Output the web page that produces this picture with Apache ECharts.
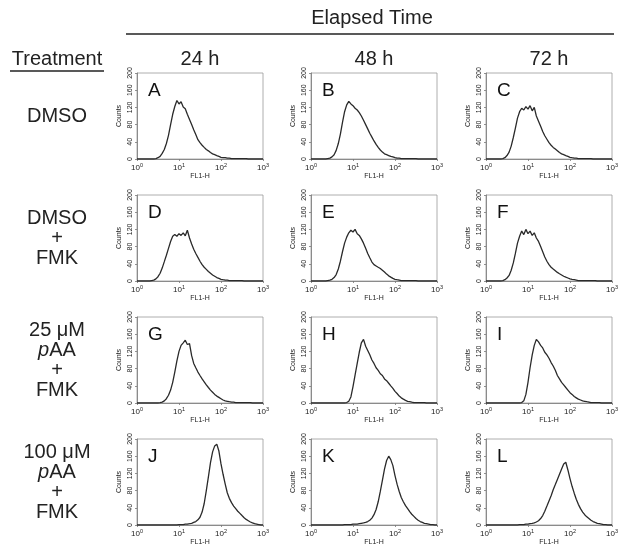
<!DOCTYPE html>
<html>
<head>
<meta charset="utf-8">
<script src="https://cdn.jsdelivr.net/npm/echarts@6/dist/echarts.min.js"></script>
<style>
html,body{margin:0;padding:0;background:#fff;}
#chart{width:629px;height:559px;}
</style>
</head>
<body>
<div id="chart"></div>
<script>
// FL1-H channel values (log-spaced, 0.05 decade steps)
const channels = [
  1.00,1.12,1.26,1.41,1.58,1.78,2.00,2.24,2.51,2.82,3.16,3.55,3.98,4.47,5.01,5.62,6.31,7.08,7.94,8.91,
  10.0,11.2,12.6,14.1,15.8,17.8,20.0,22.4,25.1,28.2,31.6,35.5,39.8,44.7,50.1,56.2,63.1,70.8,79.4,89.1,
  100,112,126,141,158,178,200,224,251,282,316,355,398,447,501,562,631,708,794,891,
  1000
];

const countsA = [0,0,0,0,0,0,0,0,0,1, 3,6,13,22,36,55,80,104,122,136, 128,133,121,117,104,92,80,68,57,45, 38,32,27,22,19,15,12,10,8,6, 4,3,3,2,2,1,1,1,1,1, 1,1,1,0,0,0,0,0,0,0, 0];
const countsB = [0,0,0,0,0,0,0,0,1,2, 5,10,20,36,58,85,110,126,134,128, 124,118,114,108,100,90,80,70,60,51, 42,34,27,21,16,12,10,8,6,5, 3,2,2,1,1,1,1,1,1,1, 1,0,0,0,0,0,0,0,0,0, 0];
const countsC = [0,0,0,0,0,0,0,0,1,3, 8,16,30,50,72,95,110,118,114,122, 116,124,112,120,100,88,76,64,54,46, 38,32,27,23,19,15,12,10,8,6, 4,3,2,2,1,1,1,1,1,1, 1,0,0,0,0,0,0,0,0,0, 0];
const countsD = [0,0,0,0,0,0,0,1,2,5, 10,18,30,45,60,76,92,104,108,104, 110,106,112,105,118,100,86,74,64,55, 46,38,32,27,22,18,14,11,8,6, 4,3,2,2,1,1,1,1,1,1, 1,0,0,0,0,0,0,0,0,0, 0];
const countsE = [0,0,0,0,0,0,0,0,1,2, 4,8,15,28,46,68,88,102,112,118, 114,120,110,106,98,88,76,64,54,44, 38,35,32,29,25,21,16,12,9,6, 4,3,2,1,1,1,1,1,1,1, 1,0,0,0,0,0,0,0,0,0, 0];
const countsF = [0,0,0,0,0,0,0,0,1,3, 7,13,25,42,64,88,104,116,108,120, 110,116,106,112,100,92,80,68,56,46, 38,32,28,24,20,17,14,11,9,7, 5,4,3,2,1,1,1,1,1,1, 1,1,1,0,0,0,0,0,0,0, 0];
const countsG = [0,0,0,0,0,0,0,0,0,0, 0,1,2,5,10,18,30,48,72,98, 120,134,140,146,136,138,110,92,82,72, 64,56,49,42,36,30,25,20,16,13, 10,7,5,4,3,2,2,1,1,1, 1,1,1,1,1,0,0,0,0,0, 0];
const countsH = [0,0,0,0,0,0,0,0,0,0, 0,0,0,0,0,0,0,1,4,14, 38,65,92,118,140,148,132,122,112,100, 92,82,76,68,64,56,52,46,40,34, 27,22,16,12,9,6,4,3,2,1, 1,1,1,1,1,0,0,0,0,0, 0];
const countsI = [0,0,0,0,0,0,0,0,0,0, 0,0,0,0,0,0,0,1,5,20, 48,82,112,134,148,142,134,128,118,112, 104,94,86,76,64,56,48,42,36,30, 24,20,15,12,9,7,5,4,3,2, 1,1,1,1,1,0,0,0,0,0, 0];
const countsJ = [0,0,0,0,0,0,0,0,0,0, 0,0,0,0,0,0,0,0,0,0, 1,1,1,2,2,3,4,6,8,12, 18,30,50,80,112,145,170,184,188,172, 142,118,95,75,62,52,44,38,32,27, 22,17,13,10,7,5,3,2,1,0, 0];
const countsK = [0,0,0,0,0,0,0,0,0,0, 0,0,0,0,0,0,1,1,1,1, 2,2,2,3,4,5,6,8,11,16, 24,36,54,78,104,130,150,160,152,138, 115,95,78,64,54,45,38,31,25,20, 15,11,8,6,4,3,2,1,1,0, 0];
const countsL = [0,0,0,0,0,0,0,0,0,0, 0,0,0,0,0,0,1,1,1,2, 2,3,4,5,7,10,15,22,32,44, 56,68,82,94,106,118,130,142,146,128, 108,90,74,60,48,38,30,24,19,15, 11,8,6,4,3,2,1,1,0,0, 0];

const panelLetters = ['A','B','C','D','E','F','G','H','I','J','K','L'];
const panelCounts = [countsA,countsB,countsC,countsD,countsE,countsF,countsG,countsH,countsI,countsJ,countsK,countsL];
const timeLabels = ['24 h','48 h','72 h'];
const treatmentLabels = [
  'DMSO',
  'DMSO\n+\nFMK',
  '25 {g|\u03bc}M\n{i|p}AA\n+\nFMK',
  '100 {g|\u03bc}M\n{i|p}AA\n+\nFMK'
];
const yMax = 200, yInterval = 40;
const xMin = 1, xMax = 1000;

// layout
const colLeft = [137, 311, 486];
const rowTop = [73, 195, 317, 439];
const gW = 126, gH = 86;
const FONT = '"Liberation Sans", Arial, Helvetica, sans-serif';
const TXT = '#222';
const BIG = '20px ' + FONT;

const chart = echarts.init(document.getElementById('chart'), null, {renderer:'canvas'});

const grids = [], xAxes = [], yAxes = [], series = [], titles = [];
panelCounts.forEach((counts, i) => {
  const r = Math.floor(i / 3), c = i % 3;
  grids.push({left: colLeft[c], top: rowTop[r], width: gW, height: gH, show: true,
    borderColor: '#9a9a9a', borderWidth: 0.8, backgroundColor: 'transparent'});
  xAxes.push({
    type: 'log', logBase: 10, min: xMin, max: xMax, gridIndex: i,
    name: 'FL1-H', nameLocation: 'middle', nameGap: 13,
    nameTextStyle: {fontSize: 7, color: TXT, fontFamily: FONT},
    axisLine: {show: true, lineStyle: {color: '#777', width: 0.8}},
    axisTick: {show: true, length: 2, lineStyle: {color: '#777', width: 0.8}},
    splitLine: {show: false},
    axisLabel: {
      fontSize: 8, color: TXT, fontFamily: FONT, margin: 3,
      formatter: v => '10{s|' + Math.round(Math.log10(v)) + '}',
      rich: {s: {fontSize: 5.5, color: TXT, fontFamily: FONT, padding: [0, 0, 5, 0]}}
    }
  });
  yAxes.push({
    type: 'value', min: 0, max: yMax, interval: yInterval, gridIndex: i,
    name: 'Counts', nameLocation: 'middle', nameGap: 14,
    nameTextStyle: {fontSize: 7, color: TXT, fontFamily: FONT},
    axisLine: {show: true, lineStyle: {color: '#777', width: 0.8}},
    axisTick: {show: true, length: 2, lineStyle: {color: '#777', width: 0.8}},
    splitLine: {show: false},
    axisLabel: {fontSize: 7, color: TXT, fontFamily: FONT, rotate: 90, margin: 3}
  });
  series.push({
    type: 'line', xAxisIndex: i, yAxisIndex: i,
    data: channels.map((x, k) => [x, counts[k]]),
    showSymbol: false, symbol: 'none', smooth: false,
    lineStyle: {color: '#2a2a2a', width: 1.3},
    silent: true, animation: false
  });
  titles.push({
    text: panelLetters[i], left: colLeft[c] + 6, top: rowTop[r] + 3,
    textStyle: {fontSize: 19, fontWeight: 'normal', color: '#111', fontFamily: FONT}
  });
});

const graphics = [];
graphics.push({type: 'text', style: {text: 'Elapsed Time', font: BIG, fill: TXT, textAlign: 'center', textVerticalAlign: 'middle'}, position: [372, 18]});
graphics.push({type: 'line', shape: {x1: 126, y1: 34, x2: 614, y2: 34}, style: {stroke: '#222', lineWidth: 1.5}});
graphics.push({type: 'line', shape: {x1: 10, y1: 71, x2: 104, y2: 71}, style: {stroke: '#222', lineWidth: 1.5}});
graphics.push({type: 'text', style: {text: 'Treatment', font: BIG, fill: TXT, textAlign: 'center', textVerticalAlign: 'middle'}, position: [57, 59]});
timeLabels.forEach((t, c) => {
  graphics.push({type: 'text', style: {text: t, font: BIG, fill: TXT, textAlign: 'center', textVerticalAlign: 'middle'}, position: [colLeft[c] + gW / 2, 59]});
});
treatmentLabels.forEach((t, r) => {
  graphics.push({type: 'text', style: {
    text: t, font: BIG, fill: TXT, textAlign: 'center', textVerticalAlign: 'middle', lineHeight: 20,
    rich: {
      g: {fontSize: 20, fontFamily: FONT, fill: TXT, lineHeight: 20},
      i: {fontSize: 20, fontFamily: FONT, fontStyle: 'italic', fill: TXT, lineHeight: 20}
    }
  }, position: [57, rowTop[r] + gH / 2]});
});

chart.setOption({
  animation: false,
  backgroundColor: '#fff',
  title: titles,
  grid: grids,
  xAxis: xAxes,
  yAxis: yAxes,
  series: series,
  graphic: graphics
});
</script>
</body>
</html>
